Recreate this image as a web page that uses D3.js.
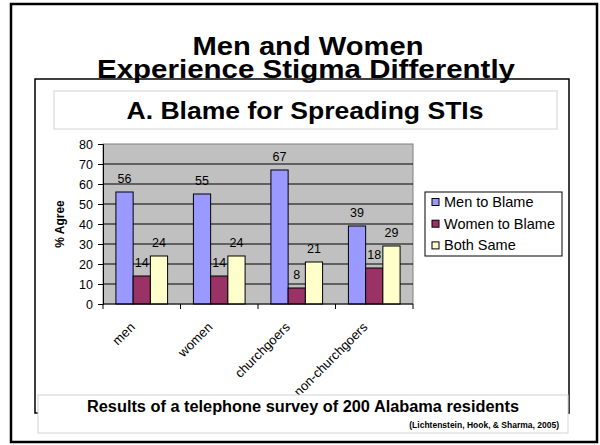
<!DOCTYPE html>
<html>
<head>
<meta charset="utf-8">
<script src="https://cdn.jsdelivr.net/npm/d3@7"></script>
<style>
  html, body { margin: 0; padding: 0; background: #fff; }
  svg { display: block; font-family: Arial, "Liberation Sans", sans-serif; }
</style>
</head>
<body>
<svg id="chart" width="600" height="445"></svg>
<script>
// Survey results: % agreeing with each blame statement, by respondent group
const categories = ["men", "women", "churchgoers", "non-churchgoers"];
const seriesNames = ["Men to Blame", "Women to Blame", "Both Same"];
const menToBlame = [56, 55, 67, 39];
const womenToBlame = [14, 14, 8, 18];
const bothSame = [24, 24, 21, 29];
const seriesColors = ["#9999FF", "#993366", "#FFFFCC"];
const yTicks = [0, 10, 20, 30, 40, 50, 60, 70, 80];

const seriesValues = [menToBlame, womenToBlame, bothSame];
const rows = categories.map((c, i) => ({
  category: c,
  values: seriesNames.map((s, j) => ({ series: s, value: seriesValues[j][i], color: seriesColors[j] }))
}));

const svg = d3.select("#chart");

// Slide frame
svg.append("rect").attr("x", 11).attr("y", 4).attr("width", 586).attr("height", 438)
  .attr("fill", "#fff").attr("stroke", "#000").attr("stroke-width", 2.5);

// Chart frame
svg.append("rect").attr("x", 35).attr("y", 79).attr("width", 534).attr("height", 334)
  .attr("fill", "#fff").attr("stroke", "#000").attr("stroke-width", 1.5);

// Slide heading (two tight lines; the second sits on the chart frame)
const heading = svg.append("g").attr("font-weight", "bold").attr("fill", "#000").attr("text-anchor", "middle");
heading.append("text").attr("x", 308).attr("y", 55).attr("font-size", 26)
  .attr("textLength", 231).attr("lengthAdjust", "spacingAndGlyphs").text("Men and Women");
heading.append("text").attr("x", 306).attr("y", 78).attr("font-size", 26.5)
  .attr("textLength", 418).attr("lengthAdjust", "spacingAndGlyphs").text("Experience Stigma Differently");

// Chart title box
svg.append("rect").attr("x", 54).attr("y", 91).attr("width", 503).attr("height", 38)
  .attr("fill", "#fff").attr("stroke", "#d4d4d4").attr("stroke-width", 1);
svg.append("text").attr("x", 305).attr("y", 119).attr("text-anchor", "middle")
  .attr("font-size", 24).attr("font-weight", "bold")
  .attr("textLength", 357).attr("lengthAdjust", "spacingAndGlyphs")
  .text("A. Blame for Spreading STIs");

// Scales
const x0 = d3.scaleBand().domain(categories).range([103, 413]).paddingInner(0).paddingOuter(0);
const x1 = d3.scaleBand().domain(seriesNames).range([0, x0.bandwidth()]).paddingInner(0).paddingOuter(0.75);
const y = d3.scaleLinear().domain([0, 80]).range([304, 144]);

// Plot area
svg.append("rect").attr("x", x0.range()[0]).attr("y", y(80))
  .attr("width", x0.range()[1] - x0.range()[0]).attr("height", y(0) - y(80))
  .attr("fill", "#C0C0C0").attr("stroke", "#808080").attr("stroke-width", 1);

// Gridlines
svg.append("g").selectAll("line").data(yTicks.filter(t => t > 0 && t < 80)).join("line")
  .attr("x1", x0.range()[0]).attr("x2", x0.range()[1])
  .attr("y1", d => y(d)).attr("y2", d => y(d))
  .attr("stroke", "#000").attr("stroke-width", 1);

// Bars
const groups = svg.append("g").selectAll("g").data(rows).join("g")
  .attr("transform", d => `translate(${x0(d.category)},0)`);
groups.selectAll("rect").data(d => d.values).join("rect")
  .attr("x", d => x1(d.series)).attr("y", d => y(d.value))
  .attr("width", x1.bandwidth()).attr("height", d => y(0) - y(d.value))
  .attr("fill", d => d.color).attr("stroke", "#000").attr("stroke-width", 1);

// Value labels
groups.selectAll("text").data(d => d.values).join("text")
  .attr("x", d => x1(d.series) + x1.bandwidth() / 2).attr("y", d => y(d.value) - 9)
  .attr("text-anchor", "middle").attr("font-size", 12.5).attr("fill", "#000")
  .text(d => d.value);

// Y axis
const yAxis = svg.append("g").attr("transform", `translate(${x0.range()[0]},0)`)
  .call(d3.axisLeft(y).tickValues(yTicks).tickSize(5).tickPadding(5).tickFormat(d3.format("d")));
yAxis.selectAll("text").attr("font-size", 12.5).attr("fill", "#000").style("font-family", "Arial, 'Liberation Sans', sans-serif");
yAxis.selectAll("line, path").attr("stroke", "#000");

// X axis: ticks at category boundaries
const xAxisG = svg.append("g");
xAxisG.append("line").attr("x1", x0.range()[0]).attr("x2", x0.range()[1])
  .attr("y1", y(0)).attr("y2", y(0)).attr("stroke", "#000");
const boundaries = categories.map(c => x0(c)).concat([x0.range()[1]]);
xAxisG.selectAll("line.tick").data(boundaries).join("line").attr("class", "tick")
  .attr("x1", d => d).attr("x2", d => d).attr("y1", y(0)).attr("y2", y(0) + 5)
  .attr("stroke", "#000");
xAxisG.selectAll("text").data(categories).join("text")
  .attr("transform", d => `translate(${x0(d) + x0.bandwidth() / 2 - 6},${y(0) + 24}) rotate(-45)`)
  .attr("text-anchor", "end").attr("font-size", 13).attr("fill", "#000")
  .text(d => d);

// Y axis title
svg.append("text").attr("transform", `translate(64,224) rotate(-90)`)
  .attr("text-anchor", "middle").attr("font-size", 12).attr("font-weight", "bold")
  .text("% Agree");

// Legend
const legend = svg.append("g").attr("transform", "translate(425,192)");
legend.append("rect").attr("width", 137).attr("height", 64)
  .attr("fill", "#fff").attr("stroke", "#000").attr("stroke-width", 1);
const items = legend.selectAll("g").data(seriesNames).join("g")
  .attr("transform", (d, i) => `translate(7,${10 + i * 21.7})`);
items.append("rect").attr("x", 0).attr("y", -3.5).attr("width", 7).attr("height", 7)
  .attr("fill", (d, i) => seriesColors[i]).attr("stroke", "#000").attr("stroke-width", 1);
items.append("text").attr("x", 12).attr("y", 5).attr("font-size", 14.5).text(d => d);

// Footer box
svg.append("rect").attr("x", 38).attr("y", 395).attr("width", 530).attr("height", 38)
  .attr("fill", "#fff").attr("stroke", "#d4d4d4").attr("stroke-width", 1);
svg.append("text").attr("x", 303).attr("y", 412).attr("text-anchor", "middle")
  .attr("font-size", 16).attr("font-weight", "bold")
  .attr("textLength", 432).attr("lengthAdjust", "spacingAndGlyphs")
  .text("Results of a telephone survey of 200 Alabama residents");
svg.append("text").attr("x", 559).attr("y", 428).attr("text-anchor", "end")
  .attr("font-size", 8.5).attr("font-weight", "bold")
  .text("(Lichtenstein, Hook, & Sharma, 2005)");
</script>
</body>
</html>
